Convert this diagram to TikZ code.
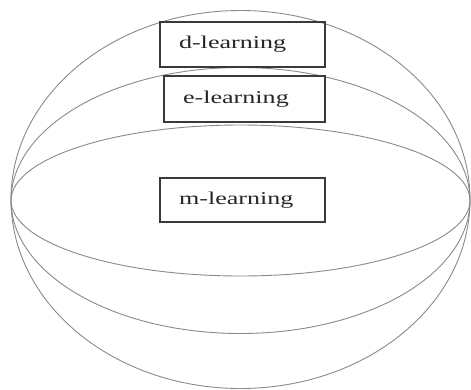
\documentclass[tikz,border=0pt]{standalone}
\usepackage{fontspec}
\setmainfont{Liberation Serif}
\definecolor{linegray}{HTML}{8A8A8A}
\definecolor{boxgray}{HTML}{3A3A3A}
\begin{document}
\begin{tikzpicture}[x=1pt,y=-1pt,
  orb/.style={draw=linegray,line width=0.9pt},
  lbox/.style={draw=boxgray,line width=1.3pt,rectangle,minimum height=45pt,
    text width=127pt,inner xsep=19pt,inner ysep=0pt,align=left,
    font=\fontsize{18}{20}\selectfont,text=black!85}]
\useasboundingbox (0,0) rectangle (471,389);
\fill[white] (0,0) rectangle (471,389);
\draw[orb] (240.5,199.5) ellipse [x radius=229.5, y radius=189];
\draw[orb] (240.5,200.5) ellipse [x radius=229.5, y radius=133];
\draw[orb] (240.5,200.5) ellipse [x radius=229.5, y radius=75.5];
\node[lbox] (d) at (242.5,44.5) {\scalebox{1.45}[1]{d-learning}};
\node[lbox,text width=123pt,minimum height=46pt,inner xsep=19pt] (e) at (244.5,99) {\scalebox{1.45}[1]{e-learning}};
\node[lbox,minimum height=44pt] (m) at (242.5,200) {\scalebox{1.45}[1]{m-learning}};
\end{tikzpicture}
\end{document}
